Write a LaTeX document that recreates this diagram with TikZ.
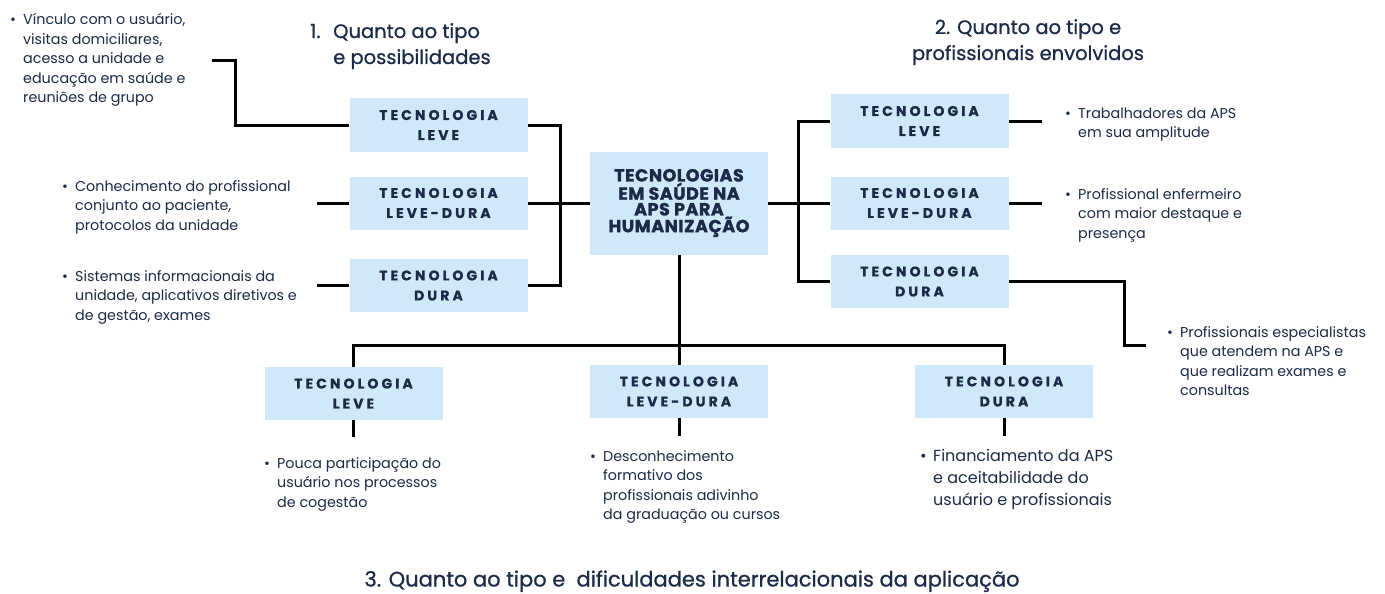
\documentclass[tikz,border=0pt]{standalone}
\usepackage{fontspec}
\setmainfont{Poppins}
\newfontfamily\labelfont[LetterSpace=22,BoldFeatures={FakeBold=0.7}]{Poppins}
\newfontfamily\centerfont[LetterSpace=3,BoldFeatures={FakeBold=1.5}]{Poppins}
\newfontfamily\titlefont[FakeBold=0.8]{Poppins}
\definecolor{navy}{HTML}{1A2A47}
\definecolor{boxblue}{HTML}{CFE9FB}
\newcommand{\blist}[1]{\begin{tabular}[t]{@{}l@{}l@{}}\makebox[13pt][l]{\textbullet}&#1\end{tabular}}
\tikzset{
  techbox/.style={rectangle, fill=boxblue, minimum width=178pt, minimum height=53pt, inner sep=0pt, align=center, text=navy, font=\labelfont\bfseries\fontsize{14}{20}\selectfont},
  mainbox/.style={rectangle, fill=boxblue, minimum width=178pt, minimum height=103pt, inner sep=0pt, align=center, text=navy, font=\centerfont\bfseries\fontsize{17.5}{15.7}\selectfont},
  conn/.style={line width=3pt, black, line join=miter},
  desc/.style={anchor=base west, inner sep=0pt, text=navy, font=\fontsize{14.3}{19.5}\selectfont},
  descbig/.style={anchor=base west, inner sep=0pt, text=navy, font=\fontsize{16}{22}\selectfont},
  titletext/.style={inner sep=0pt, text=navy, font=\titlefont\fontsize{19.5}{26}\selectfont},
}
\begin{document}
\begin{tikzpicture}[x=1pt,y=-1pt]
\useasboundingbox (0,0) rectangle (1385,594);
% titles
\node[titletext, anchor=base west] (t1) at (310,38) {\begin{tabular}[t]{@{}l@{}l@{}}\makebox[23pt][l]{1.}&Quanto ao tipo\\&e possibilidades\end{tabular}};
\node[titletext, anchor=base] (t2) at (1028,34) {\begin{tabular}[t]{@{}c@{}}2. Quanto ao tipo e\\profissionais envolvidos\end{tabular}};
\node[titletext, anchor=base, font=\titlefont\fontsize{21}{26}\selectfont] (t3) at (692,586.5) {3. Quanto ao tipo e\ \ dificuldades interrelacionais da aplicação};
% boxes
\node[mainbox] (c) at (679,203) {TECNOLOGIAS\\EM SAÚDE NA\\APS PARA\\HUMANIZAÇÃO};
\node[techbox] (l1) at (438.5,125) {TECNOLOGIA\\LEVE};
\node[techbox] (l2) at (438.5,203) {TECNOLOGIA\\LEVE-DURA};
\node[techbox] (l3) at (438.5,285.5) {TECNOLOGIA\\DURA};
\node[techbox] (r1) at (919.5,121) {TECNOLOGIA\\LEVE};
\node[techbox] (r2) at (919.5,203) {TECNOLOGIA\\LEVE-DURA};
\node[techbox] (r3) at (919.5,281.5) {TECNOLOGIA\\DURA};
\node[techbox] (b1) at (353.5,393.5) {TECNOLOGIA\\LEVE};
\node[techbox] (b2) at (679,391.5) {TECNOLOGIA\\LEVE-DURA};
\node[techbox] (b3) at (1004,391.5) {TECNOLOGIA\\DURA};
% descriptions
\node[desc] (dl1) at (10,25) {\blist{Vínculo com o usuário,\\&visitas domiciliares,\\&acesso a unidade e\\&educação em saúde e\\&reuniões de grupo}};
\node[desc] (dl2) at (62,191) {\blist{Conhecimento do profissional\\&conjunto ao paciente,\\&protocolos da unidade}};
\node[desc] (dl3) at (62,281) {\blist{Sistemas informacionais da\\&unidade, aplicativos diretivos e\\&de gestão, exames}};
\node[desc] (dr1) at (1065,118) {\blist{Trabalhadores da APS\\&em sua amplitude}};
\node[desc] (dr2) at (1065,199) {\blist{Profissional enfermeiro\\&com maior destaque e\\&presença}};
\node[desc] (dr3) at (1167,337) {\blist{Profissionais especialistas\\&que atendem na APS e\\&que realizam exames e\\&consultas}};
\node[desc] (db1) at (264,468) {\blist{Pouca participação do\\&usuário nos processos\\&de cogestão}};
\node[desc] (db2) at (590,461) {\blist{Desconhecimento\\&formativo dos\\&profissionais adivinho\\&da graduação ou cursos}};
\node[descbig] (db3) at (920,461.5) {\blist{Financiamento da APS\\&e aceitabilidade do\\&usuário e profissionais}};
% connectors
\coordinate (lbus) at (560,203);
\coordinate (rbus) at (798,203);
\coordinate (bbus) at (679,345);
\coordinate (lk) at (235,61);
\coordinate (rk) at (1124,345);
\draw[conn] (l1.east) -| (lbus) |- (l3.east);
\draw[conn] (l2.east) -- (c.west);
\draw[conn] (c.east) -- (rbus);
\draw[conn] (r1.west) -| (rbus) |- (r3.west);
\draw[conn] (r2.west) -- (rbus);
\draw[conn] (c.south) -- (bbus);
\draw[conn] (b1.north) |- (bbus) -| (b3.north);
\draw[conn] (b2.north) -- (bbus);
\draw[conn] (l1.west) -| (lk) -- ++(-23,0);
\draw[conn] (l2.west) -- ++(-32,0);
\draw[conn] (l3.west) -- ++(-32,0);
\draw[conn] (r1.east) -- ++(33,0);
\draw[conn] (r2.east) -- ++(33,0);
\draw[conn] (r3.east) -| (rk) -- ++(22,0);
\draw[conn] (b1.south) -- ++(0,17);
\draw[conn] (b2.south) -- ++(0,18);
\draw[conn] (b3.south) -- ++(0,18);
\end{tikzpicture}
\end{document}
